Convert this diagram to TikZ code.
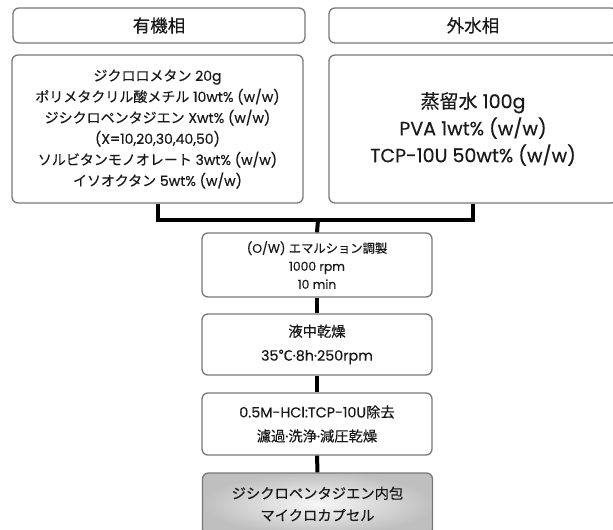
\documentclass[tikz,border=0pt]{standalone}
\usepackage{fontspec}
\setmainfont{Poppins}[FakeBold=0.4]
\newfontfamily\jp{Noto Sans CJK JP}[FakeBold=0.4]
\definecolor{boxgray}{RGB}{120,120,120}
\definecolor{textc}{RGB}{25,25,25}
\begin{document}
\begin{tikzpicture}[x=1pt,y=-1pt,
  box/.style={draw=boxgray, line width=1.3pt, rounded corners=6pt, fill=white, text=textc, align=center, inner sep=0pt},
  hdr/.style={box, font=\jp\fontsize{17.5}{20}\selectfont},
  leftc/.style={box, font=\fontsize{14}{21}\selectfont},
  rightc/.style={box, font=\fontsize{19}{27}\selectfont},
  stepsmall/.style={box, font=\fontsize{12.3}{18}\selectfont},
  stepbig/.style={box, font=\fontsize{14.3}{24}\selectfont},
  conn/.style={line width=4pt, draw=black}]
\useasboundingbox (0,0) rectangle (613,530);
\clip (0,0) rectangle (613,530);
\node[hdr, minimum width=292pt, minimum height=35pt] (lh) at (159,25.5) {有機相};
\node[hdr, minimum width=288pt, minimum height=35pt] (rh) at (473,25.5) {外水相};
\node[leftc, minimum width=291pt, minimum height=148pt] (lc) at (157.5,129)
  {{\jp ジクロロメタン} 20g\\{\jp ポリメタクリル酸メチル} 10wt\% (w/w)\\{\jp ジシクロペンタジエン} Xwt\% (w/w)\\(X=10,20,30,40,50)\\{\jp ソルビタンモノオレート} 3wt\% (w/w)\\{\jp イソオクタン} 5wt\% (w/w)};
\node[rightc, minimum width=288pt, minimum height=148pt] (rc) at (473,129)
  {{\jp 蒸留水} 100g\\PVA 1wt\% (w/w)\\TCP-10U 50wt\% (w/w)};
\node[stepsmall, minimum width=230pt, minimum height=64pt] (em) at (317,265)
  {(O/W) {\jp エマルション調製}\\1000 rpm\\10 min};
\node[stepbig, minimum width=230pt, minimum height=61pt] (dr) at (317,344.5)
  {{\jp 液中乾燥}\\35{\jp ℃}·8h·250rpm};
\node[stepbig, minimum width=230pt, minimum height=62pt] (hc) at (317,424)
  {0.5M-HCl:TCP-10U{\jp 除去}\\{\jp 濾過}·{\jp 洗浄}·{\jp 減圧乾燥}};
\node[box, font=\jp\fontsize{14.3}{22}\selectfont, inner color=gray!6, outer color=gray!50, minimum width=230pt, minimum height=62pt] (fi) at (317.5,504)
  {ジシクロペンタジエン内包\\マイクロカプセル};
\coordinate (jn) at (318,220);
\draw[conn] (lc.south) |- (jn) -| (rc.south);
\draw[conn] (jn) -- (em.north);
\draw[conn] (em) -- (dr);
\draw[conn] (dr) -- (hc);
\draw[conn] (hc) -- (fi);
\end{tikzpicture}
\end{document}
